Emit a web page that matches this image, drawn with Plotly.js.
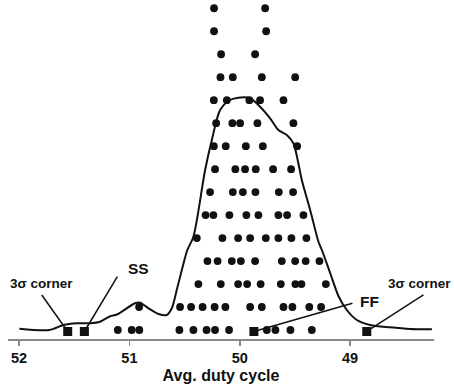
<!DOCTYPE html>
<html>
<head>
<meta charset="utf-8">
<script src="https://cdn.plot.ly/plotly-3.0.1.min.js"></script>
<style>
html,body{margin:0;padding:0;background:#fff;}
#chart{width:454px;height:388px;}
</style>
</head>
<body>
<div id="chart"></div>
<script>
// Dot rows: each row is a count level; values are avg. duty cycle (%)
const row1 = [51.105, 50.979, 50.910, 50.547, 50.420, 50.301, 50.224, 50.097, 49.755, 49.677, 49.541, 49.347];
const row2 = [50.912, 50.541, 50.441, 50.337, 50.228, 50.130, 49.906, 49.800, 49.604, 49.523, 49.370, 49.263];
const row3 = [50.375, 50.172, 50.015, 49.933, 49.811, 49.628, 49.496, 49.441, 49.220];
const row4 = [50.293, 50.201, 50.072, 49.990, 49.861, 49.619, 49.498, 49.403, 49.278];
const row5 = [50.389, 50.157, 50.015, 49.906, 49.764, 49.650, 49.532, 49.396];
const row6 = [50.310, 50.239, 50.094, 49.940, 49.831, 49.650, 49.571, 49.423];
const row7 = [50.269, 50.063, 49.972, 49.858, 49.646, 49.517];
const row8 = [50.224, 50.040, 49.952, 49.855, 49.698, 49.535];
const row9 = [50.235, 50.127, 49.945, 49.791, 49.480];
const row10 = [50.214, 50.067, 49.997, 49.840, 49.514];
const row11 = [50.235, 50.117, 49.913, 49.816, 49.604];
const row12 = [50.175, 50.063, 49.800, 49.498];
const row13 = [50.169, 49.861];
const row14 = [50.233, 49.761];
const row15 = [50.233, 49.770];
const rows = [row1,row2,row3,row4,row5,row6,row7,row8,row9,row10,row11,row12,row13,row14,row15];

// Density curve
const curveX = [51.997, 51.725, 51.598, 51.477, 51.356, 51.266, 51.175, 51.114, 50.949, 50.903, 50.828, 50.737, 50.661, 50.616, 50.571, 50.525, 50.475, 50.420, 50.314, 50.253, 50.178, 50.088, 50.012, 49.906, 49.816, 49.725, 49.650, 49.574, 49.514, 49.469, 49.438, 49.362, 49.287, 49.256, 49.181, 49.106, 49.030, 48.939, 48.819, 48.640, 48.456, 48.259];
const curveY = [1.057, 1.000, 1.218, 1.292, 1.292, 1.361, 1.60, 1.674, 2.162, 2.188, 1.944, 1.696, 1.653, 1.944, 2.741, 3.611, 4.481, 5.060, 7.962, 9.268, 10.573, 11.009, 11.109, 11.083, 10.717, 10.212, 9.703, 9.486, 9.124, 8.254, 7.527, 6.222, 4.842, 4.481, 3.480, 2.480, 1.870, 1.435, 1.218, 1.117, 1.044, 1.030];

// Corner markers
const cornerNames = ['3\u03c3 corner', 'SS', 'FF', '3\u03c3 corner'];
const cornerX = [51.559, 51.408, 49.872, 48.849];
const cornerY = [0.935, 0.935, 0.935, 0.935];

// Tick labels
const tickVals = [52, 51, 50, 49];
const tickText = ['52', '51', '50', '49'];

const dotX = [], dotY = [];
rows.forEach((r, i) => r.forEach(v => { dotX.push(v); dotY.push(i + 1); }));

const traces = [
  {x: curveX, y: curveY, type: 'scatter', mode: 'lines',
   line: {color: '#111', width: 2, shape: 'spline', smoothing: 0.8}, hoverinfo: 'skip'},
  {x: dotX, y: dotY, type: 'scatter', mode: 'markers',
   marker: {color: '#111', size: 7.8, symbol: 'circle'}},
  {x: cornerX, y: cornerY, type: 'scatter', mode: 'markers',
   marker: {color: '#111', size: 9, symbol: 'square'}, text: cornerNames}
];

// label placements (layout)
const labelPos = [
  {x: 51.794, xref: 'x', y: 3.032, ax: 51.794, ay: 2.523, size: 13.5, anchor: 'center'},
  {x: 50.921, xref: 'x', y: 3.685, ax: 51.109, ay: 3.319, size: 15.5, anchor: 'center'},
  {x: 48.828, xref: 'x', y: 2.232, ax: 48.979, ay: 2.162, size: 15.5, anchor: 'center'},
  {x: 1.0446, xref: 'paper', y: 3.032, ax: 48.336, ay: 2.523, size: 13.5, anchor: 'right'}
];

const annotations = labelPos.map((p, i) => ({
  x: p.x, y: p.y, xref: p.xref, yref: 'y', text: cornerNames[i], showarrow: false,
  xanchor: p.anchor, yanchor: 'middle',
  font: {family: 'Liberation Sans, Arial, sans-serif', size: p.size, color: '#111', weight: 'bold'}
}));
const shapes = labelPos.map((p, i) => ({
  type: 'line', xref: 'x', yref: 'y', x0: p.ax, y0: p.ay, x1: cornerX[i], y1: cornerY[i],
  line: {color: '#111', width: 1.5}, layer: 'below'
}));

const layout = {
  width: 454, height: 388,
  margin: {l: 8, r: 20, t: 0, b: 49, pad: 0},
  paper_bgcolor: '#fff', plot_bgcolor: '#fff',
  showlegend: false,
  font: {family: 'Liberation Sans, Arial, sans-serif', color: '#111'},
  xaxis: {
    range: [52.1, 48.24], autorange: false,
    tickvals: tickVals, ticktext: tickText,
    ticks: 'outside', ticklen: 5, tickwidth: 1.5, tickcolor: '#888',
    showline: true, linecolor: '#888', linewidth: 1.5,
    showgrid: false, zeroline: false,
    tickfont: {size: 14.5, weight: 'bold', color: '#111'},
    title: {text: 'Avg. duty cycle', font: {size: 16, weight: 'bold', color: '#111'}, standoff: 5}
  },
  yaxis: {
    range: [0.608, 15.36], autorange: false,
    visible: false, showgrid: false, zeroline: false
  },
  annotations: annotations,
  shapes: shapes
};

Plotly.newPlot('chart', traces, layout, {displayModeBar: false, staticPlot: true});
</script>
</body>
</html>
